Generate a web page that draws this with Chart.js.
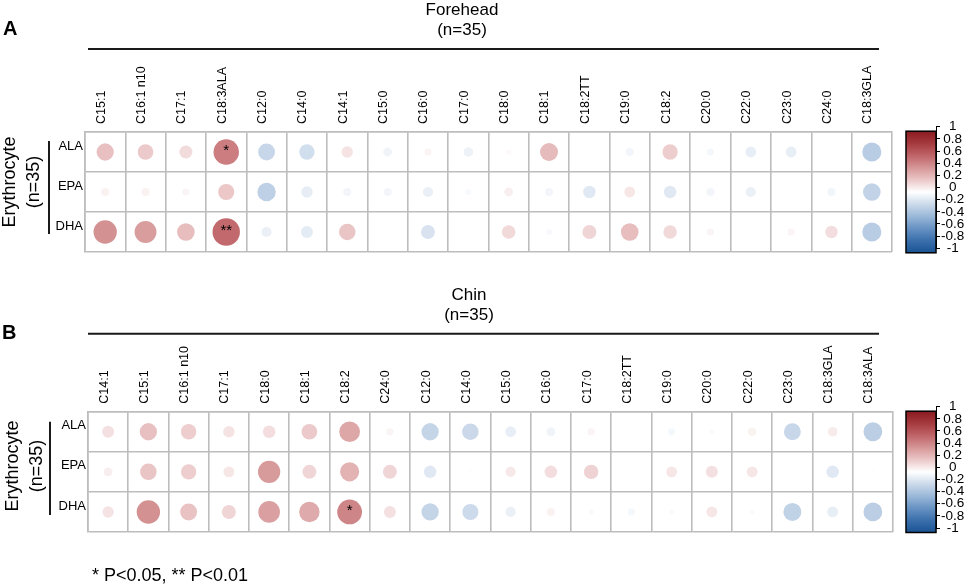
<!DOCTYPE html>
<html>
<head>
<meta charset="utf-8">
<script src="https://cdn.jsdelivr.net/npm/chart.js@4.4.1/dist/chart.umd.min.js"></script>
<style>
html, body { margin: 0; padding: 0; background: #fff; }
#wrap { position: relative; width: 969px; height: 585px; overflow: hidden; }
canvas { position: absolute; }
</style>
</head>
<body>
<div id="wrap">
  <canvas id="chartA" width="969" height="290" style="left:0;top:0"></canvas>
  <canvas id="chartB" width="969" height="315" style="left:0;top:270px"></canvas>
  <canvas id="barA" width="74" height="160" style="left:895px;top:110px"></canvas>
  <canvas id="barB" width="74" height="150" style="left:895px;top:395px"></canvas>
</div>
<script>
var FONT = "'Liberation Sans', Arial, Helvetica, sans-serif";
Chart.defaults.font.family = FONT;
Chart.defaults.color = '#000';

// rows of both panels
var rows = ['ALA', 'EPA', 'DHA'];

// Forehead (panel A)
var foreheadCols = ['C15:1', 'C16:1 n10', 'C17:1', 'C18:3ALA', 'C12:0', 'C14:0', 'C14:1', 'C15:0', 'C16:0', 'C17:0',
                    'C18:0', 'C18:1', 'C18:2TT', 'C19:0', 'C18:2', 'C20:0', 'C22:0', 'C23:0', 'C24:0', 'C18:3GLA'];
var foreheadALA = [0.23, 0.19, 0.13, 0.50, -0.22, -0.18, 0.10, -0.06, 0.04, -0.07, 0.02, 0.25, 0.01, -0.05, 0.18, -0.04, -0.09, -0.09, -0.01, -0.28];
var foreheadEPA = [0.05, 0.05, 0.04, 0.20, -0.26, -0.10, -0.05, -0.05, -0.08, -0.03, 0.06, -0.05, -0.12, 0.09, -0.12, -0.05, -0.08, -0.01, -0.05, -0.24];
var foreheadDHA = [0.42, 0.37, 0.24, 0.58, -0.08, -0.11, 0.21, -0.01, -0.15, -0.01, 0.14, -0.03, 0.15, 0.24, 0.14, 0.04, -0.01, 0.04, 0.12, -0.28];
var foreheadSig = [['ALA', 'C18:3ALA', '*'], ['DHA', 'C18:3ALA', '**']];

// Chin (panel B)
var chinCols = ['C14:1', 'C15:1', 'C16:1 n10', 'C17:1', 'C18:0', 'C18:1', 'C18:2', 'C24:0', 'C12:0', 'C14:0',
                'C15:0', 'C16:0', 'C17:0', 'C18:2TT', 'C19:0', 'C20:0', 'C22:0', 'C23:0', 'C18:3GLA', 'C18:3ALA'];
var chinALA = [0.11, 0.23, 0.18, 0.10, 0.12, 0.19, 0.33, 0.04, -0.23, -0.21, -0.09, -0.06, 0.04, 0.01, -0.04, 0.02, 0.05, -0.22, 0.07, -0.27];
var chinEPA = [0.06, 0.21, 0.18, 0.09, 0.38, 0.15, 0.28, 0.15, -0.12, -0.01, 0.08, 0.12, 0.16, 0.01, 0.09, 0.11, 0.09, 0.01, -0.12, 0.01];
var chinDHA = [0.10, 0.42, 0.22, 0.15, 0.36, 0.32, 0.47, 0.11, -0.23, -0.20, -0.08, 0.05, 0.02, -0.04, 0.02, 0.09, 0.02, -0.25, -0.09, -0.27];
var chinSig = [['DHA', 'C18:2', '*']];

// colour ramp, -1 .. 1
var ramp = [
  [-1, '#1a5393'], [-0.8, '#3a6fab'], [-0.6, '#6792c3'], [-0.4, '#9ab8d8'], [-0.2, '#ccdaeb'], [0, '#ffffff'],
  [0.2, '#ebc7c8'], [0.4, '#d69697'], [0.6, '#bf6468'], [0.8, '#a53a3e'], [1, '#8a1a1f']
];
function hexRgb(h) { return [parseInt(h.substr(1, 2), 16), parseInt(h.substr(3, 2), 16), parseInt(h.substr(5, 2), 16)]; }
function corrColor(v) {
  v = Math.max(-1, Math.min(1, v));
  for (var i = 0; i < ramp.length - 1; i++) {
    if (v <= ramp[i + 1][0]) {
      var t = (v - ramp[i][0]) / (ramp[i + 1][0] - ramp[i][0]);
      var a = hexRgb(ramp[i][1]), b = hexRgb(ramp[i + 1][1]);
      return 'rgb(' + Math.round(a[0] + (b[0] - a[0]) * t) + ',' + Math.round(a[1] + (b[1] - a[1]) * t) + ',' + Math.round(a[2] + (b[2] - a[2]) * t) + ')';
    }
  }
  return ramp[ramp.length - 1][1];
}

function cells(cols, series, sig) {
  var pts = [];
  series.forEach(function(vals, i) {
    vals.forEach(function(v, j) {
      var mark = '';
      sig.forEach(function(s) { if (s[0] === rows[i] && s[1] === cols[j]) mark = s[2]; });
      pts.push({ x: cols[j], y: rows[i], v: v, mark: mark });
    });
  });
  return pts;
}

// extra text and lines round each panel
var panelDecor = {
  id: 'panelDecor',
  afterDatasetsDraw: function(chart) {
    var c = chart.ctx;
    var meta = chart.getDatasetMeta(0);
    var data = chart.data.datasets[0].data;
    c.save();
    c.fillStyle = '#000';
    c.font = '15px ' + FONT;
    c.textAlign = 'center';
    c.textBaseline = 'middle';
    meta.data.forEach(function(el, i) {
      if (data[i].mark) c.fillText(data[i].mark, el.x, el.y - 1);
    });
    c.restore();
  },
  afterDraw: function(chart, args, o) {
    var c = chart.ctx;
    c.save();
    c.fillStyle = '#000';
    c.strokeStyle = '#1a1a1a';
    c.textBaseline = 'alphabetic';
    c.font = 'bold 20px ' + FONT;
    c.textAlign = 'left';
    c.fillText(o.letter, o.letterX, o.letterY);
    c.font = '17px ' + FONT;
    c.textAlign = 'center';
    c.fillText(o.title, o.titleX, o.titleY);
    c.fillText('(n=35)', o.titleX, o.titleY + 20);
    c.lineWidth = 2;
    c.beginPath(); c.moveTo(88, o.ruleY); c.lineTo(879, o.ruleY); c.stroke();
    // row group
    c.beginPath(); c.moveTo(o.vlineX, o.vlineTop); c.lineTo(o.vlineX, o.vlineBottom); c.stroke();
    c.font = '18px ' + FONT;
    c.textBaseline = 'middle';
    c.save(); c.translate(o.grpX, o.grpY); c.rotate(-Math.PI / 2); c.fillText('Erythrocyte', 0, 0); c.restore();
    c.save(); c.translate(o.grpX + 24, o.grpY); c.rotate(-Math.PI / 2); c.fillText('(n=35)', 0, 0); c.restore();
    if (o.note) {
      c.textAlign = 'left';
      c.textBaseline = 'alphabetic';
      c.fillText(o.note, 92, o.noteY);
    }
    c.restore();
  }
};

function matrixChart(id, cols, series, sig, pad, axisH, decor) {
  return new Chart(document.getElementById(id), {
    type: 'scatter',
    data: {
      datasets: [{
        data: cells(cols, series, sig),
        showLine: false,
        clip: false,
        pointBorderWidth: 0,
        pointHoverBorderWidth: 0,
        pointBackgroundColor: function(ctx) { return ctx.raw ? corrColor(ctx.raw.v) : '#fff'; },
        pointRadius: function(ctx) {
          if (!ctx.raw) return 0;
          var ys = ctx.chart.scales.y;
          var cell = Math.abs(ys.getPixelForValue(1) - ys.getPixelForValue(0));
          return 0.45 * cell * Math.sqrt(Math.abs(ctx.raw.v));
        }
      }]
    },
    options: {
      responsive: false,
      animation: false,
      events: [],
      layout: { padding: pad },
      plugins: { legend: { display: false }, tooltip: { enabled: false }, panelDecor: decor },
      scales: {
        x: {
          type: 'category',
          labels: cols,
          position: 'top',
          offset: true,
          grid: { offset: true, color: '#bdbdbd', lineWidth: 1.6, drawTicks: false },
          border: { display: true, color: '#bdbdbd', width: 1.6 },
          ticks: { autoSkip: false, minRotation: 90, maxRotation: 90, padding: 8, labelOffset: 11, font: { size: 12.5 }, color: '#000' },
          afterFit: function(s) { s.height = axisH; }
        },
        y: {
          type: 'category',
          labels: rows,
          offset: true,
          grid: { offset: true, color: '#bdbdbd', lineWidth: 1.6, drawTicks: false },
          border: { display: true, color: '#bdbdbd', width: 1.6 },
          ticks: { padding: 2, labelOffset: -6, font: { size: 13 }, color: '#000' },
          afterFit: function(s) { s.width = pad.yw; }
        }
      }
    },
    plugins: [panelDecor]
  });
}

matrixChart('chartA', foreheadCols, [foreheadALA, foreheadEPA, foreheadDHA], foreheadSig,
  { left: 0, right: 77, top: 60, bottom: 38, yw: 85 }, 72,
  { letter: 'A', letterX: 3, letterY: 35, title: 'Forehead', titleX: 462, titleY: 15, ruleY: 49,
    vlineX: 49, vlineTop: 141, vlineBottom: 234, grpX: 10, grpY: 182 });

matrixChart('chartB', chinCols, [chinALA, chinEPA, chinDHA], chinSig,
  { left: 0, right: 76, top: 70, bottom: 53, yw: 88 }, 71.7,
  { letter: 'B', letterX: 2, letterY: 69, title: 'Chin', titleX: 469, titleY: 30, ruleY: 63.7,
    vlineX: 50, vlineTop: 151.7, vlineBottom: 245, grpX: 13, grpY: 196,
    note: '* P<0.05, ** P<0.01', noteY: 311 });

// colour key
var colorKey = {
  id: 'colorKey',
  afterDraw: function(chart, args, o) {
    var c = chart.ctx, a = chart.chartArea;
    var top = a.top + o.shift, bottom = a.bottom + o.shift;
    var g = c.createLinearGradient(0, top, 0, bottom);
    ramp.forEach(function(s) { g.addColorStop((1 - s[0]) / 2, s[1]); });
    c.save();
    c.fillStyle = g;
    c.fillRect(a.left, top, a.right - a.left, bottom - top);
    c.strokeStyle = '#000';
    c.lineWidth = 1.5;
    c.strokeRect(a.left, top, a.right - a.left, bottom - top);
    c.restore();
  }
};

function keyChart(id, top, bottom) {
  return new Chart(document.getElementById(id), {
    type: 'scatter',
    data: { datasets: [{ data: [] }] },
    options: {
      responsive: false,
      animation: false,
      events: [],
      layout: { padding: { left: 11, right: 0, top: top, bottom: bottom } },
      plugins: { legend: { display: false }, tooltip: { enabled: false }, colorKey: { shift: 4.5 } },
      scales: {
        x: { display: false, min: 0, max: 1 },
        y: {
          position: 'right',
          min: -1, max: 1,
          grid: { drawOnChartArea: false, color: '#000', tickLength: 4, lineWidth: 1 },
          border: { display: true, color: '#000', width: 1 },
          ticks: {
            stepSize: 0.2, autoSkip: false, crossAlign: 'center', padding: 1, font: { size: 13.5 }, color: '#000',
            callback: function(v) { return String(Math.round(v * 10) / 10); }
          },
          afterFit: function(s) { s.width = 33; }
        }
      }
    },
    plugins: [colorKey]
  });
}

keyChart('barA', 16.7, 21.7);
keyChart('barB', 11.7, 17);
</script>
</body>
</html>
